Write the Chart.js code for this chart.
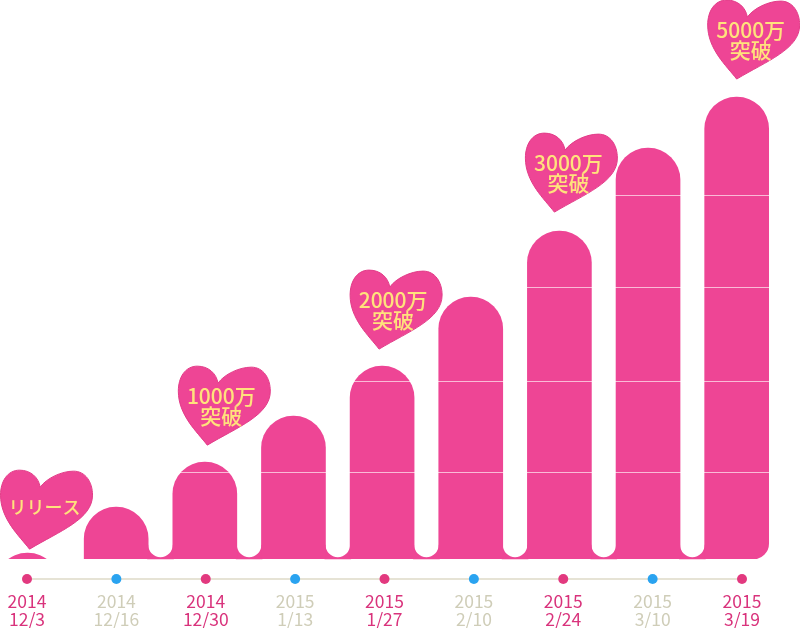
<!DOCTYPE html>
<html><head><meta charset="utf-8">
<style>html,body{margin:0;padding:0;background:#fff}canvas{display:block}</style>
<script src="https://cdn.jsdelivr.net/npm/chart.js@4"></script>
</head><body><canvas id="c" width="800" height="628"></canvas>
<script>
const years = ['2014','2014','2014','2015','2015','2015','2015','2015','2015'];
const dates = ['12/3','12/16','12/30','1/13','1/27','2/10','2/24','3/10','3/19'];
const barValues = [65,565,1054,1554,2098,2848,3565,4467,5022];
const gridValues = [945,1935,2957,3957];
const milestoneIndex = [0,2,4,6,8];
const milestoneLines = [['リリース'],['1000万','突破'],['2000万','突破'],['3000万','突破'],['5000万','突破']];
const heartShiftX = [2,2.5,-3,-5,0];
const heartShiftY = [-4,-17,-17,-19,-18];
const PINK='#EE4595', DOT_PINK='#E2397F', DOT_BLUE='#2AA3F0', TXT_PINK='#D9337C', TXT_GREY='#CFCDB8', LINE='#E6E3D5', YEL='#FFE27C';
const isMain = i => i % 2 === 0;
const FONT='"Noto Sans CJK JP"';

function heartPath(ctx,x,y){
  ctx.beginPath();
  ctx.moveTo(x,y);
  ctx.bezierCurveTo(x-10,y-13,x-29,y-30,x-29,y-54);
  ctx.bezierCurveTo(x-29,y-68,x-22,y-79,x-10,y-79);
  ctx.bezierCurveTo(x+1,y-79,x+9,y-72,x+10.7,y-62);
  ctx.bezierCurveTo(x+17,y-71,x+32,y-78,x+44,y-78);
  ctx.bezierCurveTo(x+56,y-78,x+63,y-67,x+63,y-54);
  ctx.bezierCurveTo(x+63,y-30,x+30,y-18,x,y);
  ctx.closePath();
}
const decor = {
  id:'decor',
  beforeDatasetsDraw(chart){
    const ctx=chart.ctx, bars=chart.getDatasetMeta(0).data, b=chart.scales.y.getPixelForValue(0);
    ctx.save(); ctx.fillStyle=PINK;
    for(let i=1;i<bars.length-1;i++){
      const xL=bars[i].x+bars[i].width/2, xR=bars[i+1].x-bars[i+1].width/2, r=(xR-xL)/2;
      ctx.beginPath();
      ctx.moveTo(xL-1,b); ctx.lineTo(xL-1,b-2-r); ctx.lineTo(xL,b-2-r);
      ctx.arc(xL+r,b-2-r,r,Math.PI,0,true);
      ctx.lineTo(xR+1,b-2-r); ctx.lineTo(xR+1,b); ctx.closePath(); ctx.fill();
    }
    ctx.restore();
  },
  afterDatasetsDraw(chart){
    const ctx=chart.ctx, y=chart.scales.y, bars=chart.getDatasetMeta(0).data;
    ctx.save();
    ctx.globalCompositeOperation='source-atop';
    ctx.strokeStyle='rgba(255,225,238,0.75)'; ctx.lineWidth=1;
    gridValues.forEach(v=>{
      const p=Math.round(y.getPixelForValue(v))+0.5;
      ctx.beginPath(); ctx.moveTo(0,p); ctx.lineTo(chart.width,p); ctx.stroke();
    });
    ctx.restore();
    ctx.save();
    ctx.textAlign='center'; ctx.textBaseline='middle';
    milestoneIndex.forEach((idx,k)=>{
      const tx=bars[idx].x+heartShiftX[k], ty=y.getPixelForValue(barValues[idx])+heartShiftY[k];
      heartPath(ctx,tx,ty);
      ctx.fillStyle=PINK; ctx.fill();
      ctx.strokeStyle='#E23C88'; ctx.lineWidth=1; ctx.stroke();
      ctx.fillStyle=YEL; ctx.font='500 21px '+FONT;
      const lines=milestoneLines[k];
      if(lines.length===1){ ctx.font='500 18px '+FONT; ctx.fillText(lines[0],tx+15,ty-42); }
      else { ctx.fillText(lines[0],tx+14,ty-49); ctx.fillText(lines[1],tx+14,ty-29); }
    });
    ctx.restore();
  }
};
new Chart(document.getElementById('c'),{
  data:{
    labels:years.map((y,i)=>[y,dates[i]]),
    datasets:[
      {type:'bar',xAxisID:'xB',grouped:false,data:barValues.map((v,i)=>({x:i,y:i<2?[-1000,v]:v})),backgroundColor:PINK,barThickness:64,
       borderSkipped:false,
       borderRadius:c=>({topLeft:32,topRight:32,bottomLeft:0,bottomRight:c.dataIndex===barValues.length-1?16:0}),
       clip:{left:40,right:60,top:0,bottom:-20},order:2},
      {type:'line',xAxisID:'x',data:barValues.map(()=>-216),showLine:false,pointRadius:5,pointHoverRadius:5,pointBorderWidth:0,
       pointBackgroundColor:barValues.map((_,i)=>isMain(i)?DOT_PINK:DOT_BLUE),clip:false,order:1}
    ]
  },
  options:{
    responsive:false,animation:false,events:[],
    layout:{autoPadding:false,padding:{left:27,right:58,top:0,bottom:0}},
    plugins:{legend:{display:false},tooltip:{enabled:false}},
    scales:{
      x:{type:'category',offset:false,grid:{display:false,drawTicks:false,offset:false},
         border:{display:true,color:LINE,width:2},
         afterFit(s){s.height=49;s.paddingLeft=0;s.paddingRight=0;},
         ticks:{autoSkip:false,maxRotation:0,padding:13,font:{family:FONT,size:17.5,lineHeight:1.06},
                color:c=>isMain(c.index)?TXT_PINK:TXT_GREY}},
      xB:{type:'linear',display:false,offset:false,min:-0.006,max:8.06},
      y:{display:false,min:-216,max:6077}
    }
  },
  plugins:[decor]
});
</script></body></html>
